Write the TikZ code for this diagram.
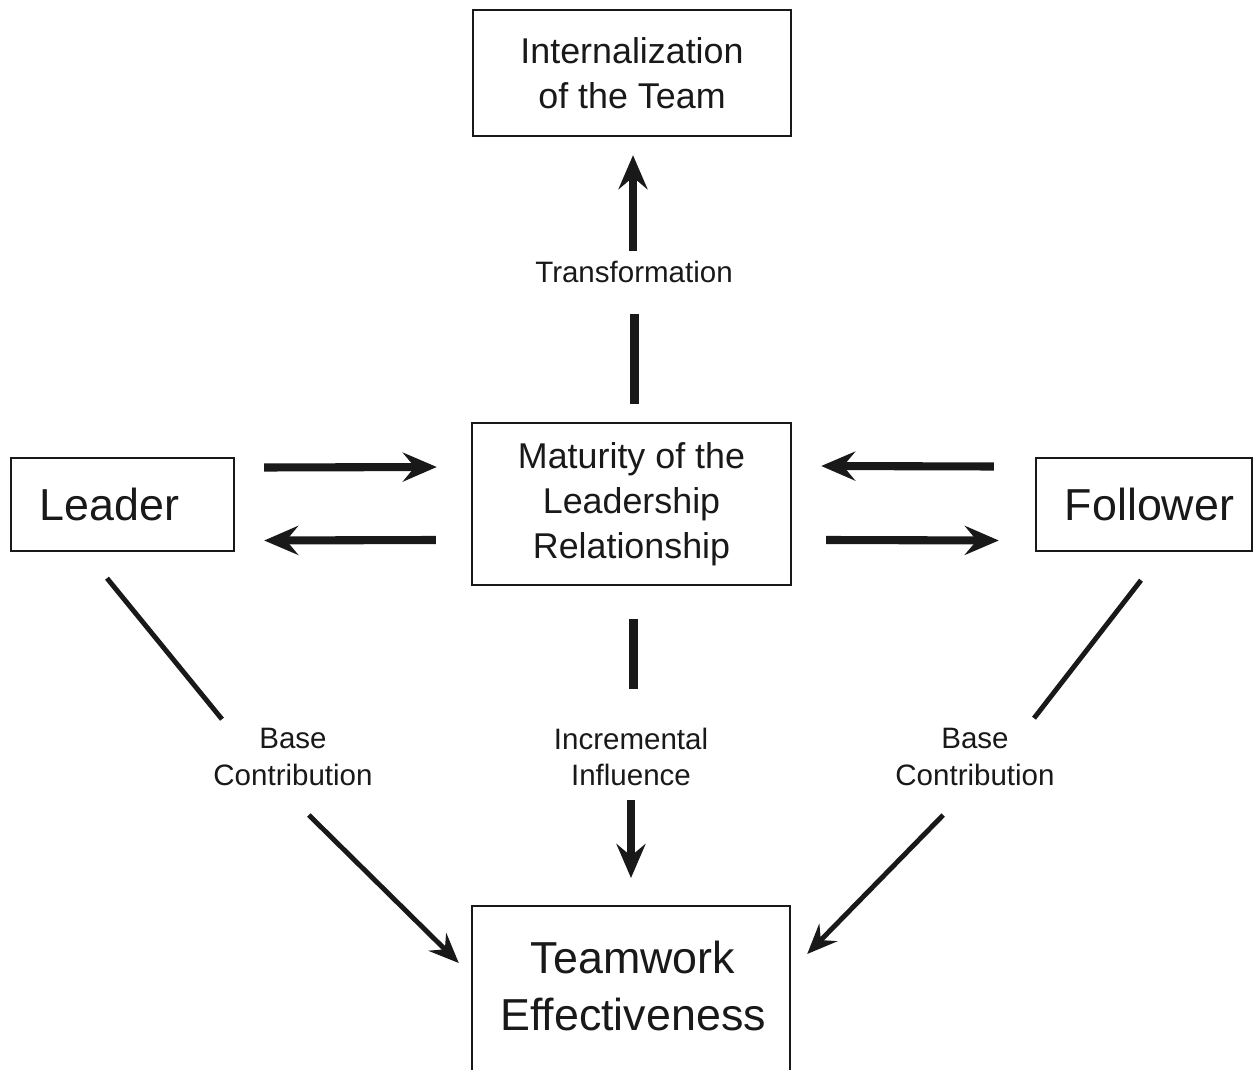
\documentclass[tikz,border=0pt]{standalone}
\usepackage{fontspec}
\setmainfont{Liberation Sans}
\usetikzlibrary{arrows.meta,positioning,calc}
\tikzset{
    object color/.style={black!90},
    box/.style={draw,object color,line width=1.4pt,align=center,inner sep=0pt},
    big text/.style={font=\fontsize{25.5}{32.3}\selectfont},
    mid text/.style={font=\fontsize{20.4}{25.5}\selectfont},
    arr/.style={-{Stealth[length=0.68cm,width=0.58cm,inset=0.24cm]},object color,line width=4.6pt},
    dline/.style={object color,line width=2.8pt},
    darr/.style={-{Stealth[length=0.6cm,width=0.5cm,inset=0.21cm]},object color,line width=2.8pt},
    bar/.style={object color,line width=4.6pt},
}
\tikzstyle{every node}=[font=\fontsize{16.8}{21}\selectfont,text=black!90]
\begin{document}
\begin{tikzpicture}[x=0.02cm,y=-0.02cm]
        \useasboundingbox (0,0) rectangle (1254,1070);

        \node[box,mid text,minimum width=6.36cm,minimum height=2.52cm] (top) at (632,73) {Internalization\\of the Team};
        \node[box,mid text,minimum width=6.38cm,minimum height=3.24cm] (mid) at (631.5,504) {Maturity of the\\Leadership\\Relationship};
        \node[box,big text,minimum width=4.46cm,minimum height=1.86cm] (leader) at (122.5,504.5) {Leader\hspace{0.52cm}};
        \node[box,big text,minimum width=4.32cm,minimum height=1.86cm] (follower) at (1144,504.5) {\hspace{0.22cm}Follower};
        \node[box,minimum width=6.36cm,minimum height=4cm,anchor=north] (team) at (631,905) {};
        \node[big text,align=center] (teamtext) at (633,986) {Teamwork\\Effectiveness};

        \node (trans) at (634,272) {Transformation};
        \node[align=center] (incr) at (631,757) {Incremental\\Influence};
        \node[align=center] (baseL) at (293,757) {Base\\Contribution};
        \node[align=center] (baseR) at (975,757) {Base\\Contribution};

        % up to the team
        \draw[bar] ($(mid.north)+(3,-18)$) -- ($(mid.north)+(3,-108)$);
        \draw[arr] ($(top.south)+(1,114)$) -- ($(top.south)+(1,18)$);

        % leader <-> relationship
        \draw[arr] ($(leader.east)+(29,-37)$) -- ($(mid.west)+(-34,-37)$);
        \draw[arr] ($(mid.west)+(-35,36)$) -- ($(leader.east)+(29,36)$);
        % follower <-> relationship
        \draw[arr] ($(follower.west)+(-41,-38)$) -- ($(mid.east)+(29,-38)$);
        \draw[arr] ($(mid.east)+(34,36)$) -- ($(follower.west)+(-36,36)$);

        % down to effectiveness
        \draw[bar] ($(mid.south)+(2,33)$) -- ($(mid.south)+(2,103)$);
        \draw[arr] ($(team.north)+(0,-105)$) -- ($(team.north)+(0,-27)$);

        \draw[dline] ($(leader.south)+(-15.5,26)$) -- ($(leader.south)+(99.5,167)$);
        \draw[darr] ($(team.north west)+(-162,-90)$) -- ($(team.north west)+(-12,58)$);

        \draw[dline] ($(follower.south)+(-3,28)$) -- ($(follower.south)+(-110,166)$);
        \draw[darr] ($(team.north east)+(152,-90)$) -- ($(team.north east)+(16,49)$);
    \end{tikzpicture}
\end{document}
